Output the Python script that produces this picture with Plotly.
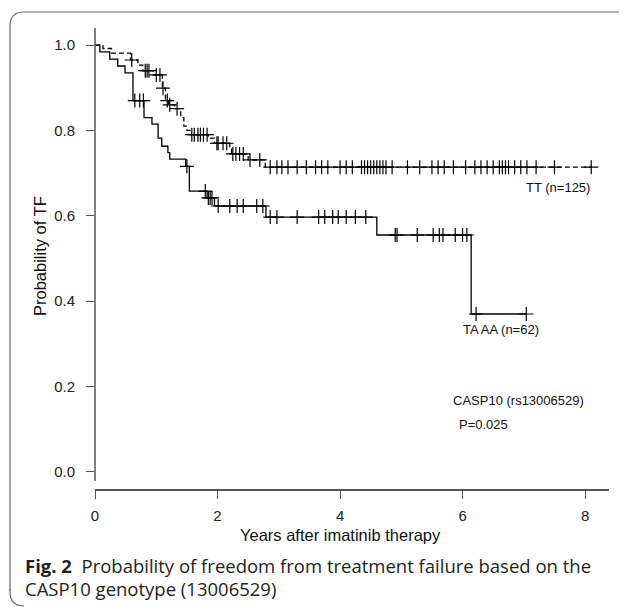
import plotly.graph_objects as go

# ---------------- data ----------------
# TA AA (n=62) - solid curve : event times (years) and survival after each event
taaa_times = [0.08, 0.24, 0.37, 0.49, 0.62, 0.80, 0.93, 1.03, 1.09, 1.19, 1.22, 1.48, 1.54, 1.83, 1.95, 2.79, 4.60, 6.14]
taaa_surv  = [0.984, 0.967, 0.951, 0.935, 0.870, 0.830, 0.815, 0.782, 0.763, 0.748, 0.733, 0.716, 0.658, 0.642, 0.623, 0.597, 0.555, 0.370]
taaa_censor = [0.65, 0.73, 0.79, 1.50, 1.80, 1.85, 1.88, 1.91, 2.01, 2.20, 2.32, 2.42, 2.64, 2.74,
               2.86, 2.97, 3.30, 3.65, 3.75, 3.88, 3.97, 4.10, 4.25, 4.42,
               4.90, 4.93, 5.26, 5.52, 5.62, 5.68, 5.88, 6.00, 6.07, 6.22, 7.04]
taaa_end = 7.04

# TT (n=125) - dashed curve
tt_times = [0.13, 0.27, 0.58, 0.70, 0.78, 0.95, 1.10, 1.15, 1.20, 1.30, 1.40, 1.45, 1.50, 1.55, 1.85, 1.95, 2.20, 2.23, 2.50, 2.78]
tt_surv  = [0.992, 0.981, 0.965, 0.953, 0.940, 0.930, 0.899, 0.870, 0.860, 0.851, 0.830, 0.810, 0.800, 0.790, 0.782, 0.770, 0.759, 0.745, 0.731, 0.714]
tt_censor = [0.60, 0.82, 0.85, 0.88, 1.00, 1.06, 1.11, 1.18, 1.22, 1.34,
             1.58, 1.62, 1.68, 1.72, 1.77, 1.83, 1.99, 2.01, 2.09, 2.15,
             2.25, 2.30, 2.36, 2.42, 2.53, 2.69,
             2.86, 2.97, 3.05, 3.15, 3.30, 3.45, 3.60, 3.70, 3.80, 4.00, 4.10, 4.20,
             4.35, 4.40, 4.45, 4.50, 4.55, 4.60, 4.65, 4.70, 4.75, 4.85, 5.10, 5.30,
             5.50, 5.60, 5.70, 5.85, 6.05, 6.20, 6.30, 6.40, 6.50, 6.60, 6.65, 6.70,
             6.75, 6.85, 6.95, 7.05, 7.20, 7.50, 8.10]
tt_end = 8.10

x_ticks = [0, 2, 4, 6, 8]
y_ticks = [0.0, 0.2, 0.4, 0.6, 0.8, 1.0]
y_tick_text = ["0.0", "0.2", "0.4", "0.6", "0.8", "1.0"]


def surv_at(t, times, surv):
    s = 1.0
    for ti, si in zip(times, surv):
        if ti <= t:
            s = si
    return s


def step_xy(times, surv, end):
    xs = [0.0] + list(times) + [end]
    ys = [1.0] + list(surv) + [surv[-1]]
    return xs, ys


AX = "Arial, Liberation Sans, sans-serif"
fig = go.Figure()

tx, ty = step_xy(tt_times, tt_surv, tt_end)
fig.add_trace(go.Scatter(x=tx, y=ty, mode="lines", line=dict(shape="hv", color="black", width=1.3, dash="5px,3px"),
                         hoverinfo="skip", showlegend=False))
fig.add_trace(go.Scatter(x=tt_censor, y=[surv_at(c, tt_times, tt_surv) for c in tt_censor], mode="markers",
                         marker=dict(symbol="cross-thin-open", size=10, color="black", line=dict(color="black", width=1.2)),
                         showlegend=False))

sx, sy = step_xy(taaa_times, taaa_surv, taaa_end)
fig.add_trace(go.Scatter(x=sx, y=sy, mode="lines", line=dict(shape="hv", color="black", width=1.3),
                         hoverinfo="skip", showlegend=False))
fig.add_trace(go.Scatter(x=taaa_censor, y=[surv_at(c, taaa_times, taaa_surv) for c in taaa_censor], mode="markers",
                         marker=dict(symbol="cross-thin-open", size=10, color="black", line=dict(color="black", width=1.2)),
                         showlegend=False))

# page body has an 8px margin -> lay out in screen coordinates, shifted
OFF = 8
W, H = 627 - OFF, 607 - OFF
L, R, T, B = 95, 609, 28, 489        # plot area in screen pixels
pw, ph = R - L, B - T


def px(xp):
    return (xp - L) / pw


def py(yp):
    return (B - yp) / ph


axis_col = "#555555"
fig.update_xaxes(range=[0, 8.39], tickvals=x_ticks, ticks="outside", ticklen=8, tickcolor=axis_col, tickwidth=1.3,
                 showline=True, linecolor=axis_col, linewidth=1.5, showgrid=False, zeroline=False,
                 tickfont=dict(family=AX, size=15, color="#222"), ticklabelstandoff=4)
fig.update_yaxes(range=[-0.04, 1.04], tickvals=y_ticks, ticktext=y_tick_text, ticks="outside", ticklen=8,
                 tickcolor=axis_col, tickwidth=1.3, showline=False, showgrid=False, zeroline=False,
                 tickfont=dict(family=AX, size=15, color="#222"), ticklabelstandoff=8)

shapes = []
# y axis line (stops short of the x axis)
shapes.append(dict(type="line", xref="paper", yref="paper", x0=0, x1=0, y0=py(481), y1=1,
                   line=dict(color=axis_col, width=1.5)))
# rounded outer frame
r = 14
rx, ry = r / pw, r / ph
fx0, fy0, fx1 = px(10), py(12), px(640)
path = f"M {fx0},{py(590)} L {fx0},{fy0 - ry} Q {fx0},{fy0} {fx0 + rx},{fy0} L {fx1},{fy0}"
shapes.append(dict(type="path", xref="paper", yref="paper", path=path, line=dict(color="#666", width=1.2)))
fb = py(606)
path2 = f"M {fx0},{py(589)} L {fx0},{fb + ry} Q {fx0},{fb} {fx0 + rx},{fb}"
shapes.append(dict(type="path", xref="paper", yref="paper", path=path2, line=dict(color="#666", width=1.2)))
fig.update_layout(shapes=shapes)

ann = []
ann.append(dict(text="Years after imatinib therapy", xref="paper", yref="paper", x=px(340), y=py(535),
                showarrow=False, font=dict(family=AX, size=16.5, color="#111"), xanchor="center", yanchor="middle"))
ann.append(dict(text="Probability of TF", xref="paper", yref="paper", x=px(40), y=py(256), textangle=-90,
                showarrow=False, font=dict(family=AX, size=16.5, color="#111"), xanchor="center", yanchor="middle"))
ann.append(dict(text="TT (n=125)", xref="x", yref="y", x=7.55, y=0.667, showarrow=False,
                font=dict(family=AX, size=13, color="#111"), xanchor="center", yanchor="middle"))
ann.append(dict(text="TA AA (n=62)", xref="x", yref="y", x=6.62, y=0.333, showarrow=False,
                font=dict(family=AX, size=13, color="#111"), xanchor="center", yanchor="middle"))
ann.append(dict(text="CASP10 (rs13006529)", xref="paper", yref="paper", x=px(451), y=py(400), showarrow=False,
                font=dict(family=AX, size=13, color="#111"), xanchor="left", yanchor="middle"))
ann.append(dict(text="P=0.025", xref="paper", yref="paper", x=px(457), y=py(424), showarrow=False,
                font=dict(family=AX, size=13, color="#111"), xanchor="left", yanchor="middle"))
CF = "Open Sans, Noto Sans, sans-serif"
ann.append(dict(text="<b>Fig. 2</b>  Probability of freedom from treatment failure based on the",
                xref="paper", yref="paper", x=px(23), y=py(565), showarrow=False,
                font=dict(family=CF, size=18.5, color="#231f20"), xanchor="left", yanchor="middle"))
ann.append(dict(text="CASP10 genotype (13006529)",
                xref="paper", yref="paper", x=px(23), y=py(588), showarrow=False,
                font=dict(family=CF, size=18.5, color="#231f20"), xanchor="left", yanchor="middle"))

fig.update_layout(width=W, height=H,
                  margin=dict(l=L - OFF, r=W - (R - OFF), t=T - OFF, b=H - (B - OFF), pad=0),
                  paper_bgcolor="white", plot_bgcolor="white", annotations=ann, showlegend=False)

fig.write_html("out.html")
